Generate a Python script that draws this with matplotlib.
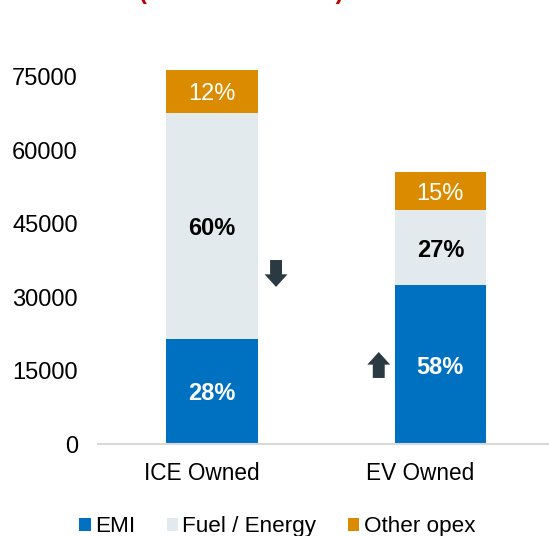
import matplotlib
matplotlib.use("Agg")
import matplotlib.pyplot as plt
from matplotlib.transforms import ScaledTranslation

plt.rcParams['font.family'] = ['Liberation Sans', 'DejaVu Sans']

categories = ['ICE Owned', 'EV Owned']
emi = [21500, 32500]
fuel = [46100, 15300]
other = [8800, 7700]
emi_lbl = ['28%', '58%']
fuel_lbl = ['60%', '27%']
other_lbl = ['12%', '15%']
series_names = ['EMI', 'Fuel / Energy', 'Other opex']
colors = ['#0070C0', '#E3EAEE', '#DA8B00']
yticks = [0, 15000, 30000, 45000, 60000, 75000]

fig = plt.figure(figsize=(5.49, 5.36), dpi=100)
ax = fig.add_axes([0.1785, 0.1716, 0.8315, 0.7304])

x = list(range(len(categories)))
b1 = ax.bar(x, emi, width=0.4, color=colors[0], label=series_names[0])
b2 = ax.bar(x, fuel, width=0.4, bottom=emi, color=colors[1], label=series_names[1])
bot2 = [a + b for a, b in zip(emi, fuel)]
b3 = ax.bar(x, other, width=0.4, bottom=bot2, color=colors[2], label=series_names[2])

for i in x:
    ax.text(i, emi[i] / 2, emi_lbl[i], ha='center', va='center_baseline', color='white',
            fontsize=17, fontweight='bold')
    ax.text(i, emi[i] + fuel[i] / 2, fuel_lbl[i], ha='center', va='center_baseline',
            color='black', fontsize=17, fontweight='bold')
    ax.text(i, bot2[i] + other[i] / 2, other_lbl[i], ha='center', va='center_baseline',
            color='white', fontsize=17)

# trend arrows
arrow_style = 'simple,head_width=1.0,head_length=0.55,tail_width=0.52'
ax.annotate('', xy=(0.28, 32100), xytext=(0.28, 37600),
            arrowprops=dict(arrowstyle=arrow_style, mutation_scale=16.5, color='#2B3A42',
                            shrinkA=0, shrinkB=0, lw=0))
ax.annotate('', xy=(0.73, 18800), xytext=(0.73, 13500),
            arrowprops=dict(arrowstyle=arrow_style, mutation_scale=16.5, color='#2B3A42',
                            shrinkA=0, shrinkB=0, lw=0))

ax.set_xlim(-0.5, 1.5)
ax.set_ylim(0, 80000)
ax.set_yticks(yticks)
ax.set_yticklabels([str(v) for v in yticks])
ax.set_xticks(x)
ax.set_xticklabels(categories)
ax.tick_params(axis='both', length=0)
ax.tick_params(axis='y', pad=14.5, labelsize=17)
ax.tick_params(axis='x', pad=13, labelsize=16.3)
for lab, dx in zip(ax.get_xticklabels(), [-10, -20]):
    lab.set_transform(lab.get_transform() + ScaledTranslation(dx / 100, 0, fig.dpi_scale_trans))

for s in ['top', 'right', 'left']:
    ax.spines[s].set_visible(False)
ax.spines['bottom'].set_color('#D9D9D9')
ax.spines['bottom'].set_linewidth(1.5)

fig.legend(handles=[b1, b2, b3], loc='center', bbox_to_anchor=(0.505, 0.017), ncol=3,
           frameon=False, fontsize=16.2, handlelength=0.5, handleheight=0.5,
           handletextpad=0.2, columnspacing=1.4, borderpad=0)

fig.text(0.44, 1.002, '(Total Cost in INR)', ha='center', va='baseline', color='#C00000',
         fontsize=17, fontweight='bold')

fig.savefig('out.png', dpi=100)
